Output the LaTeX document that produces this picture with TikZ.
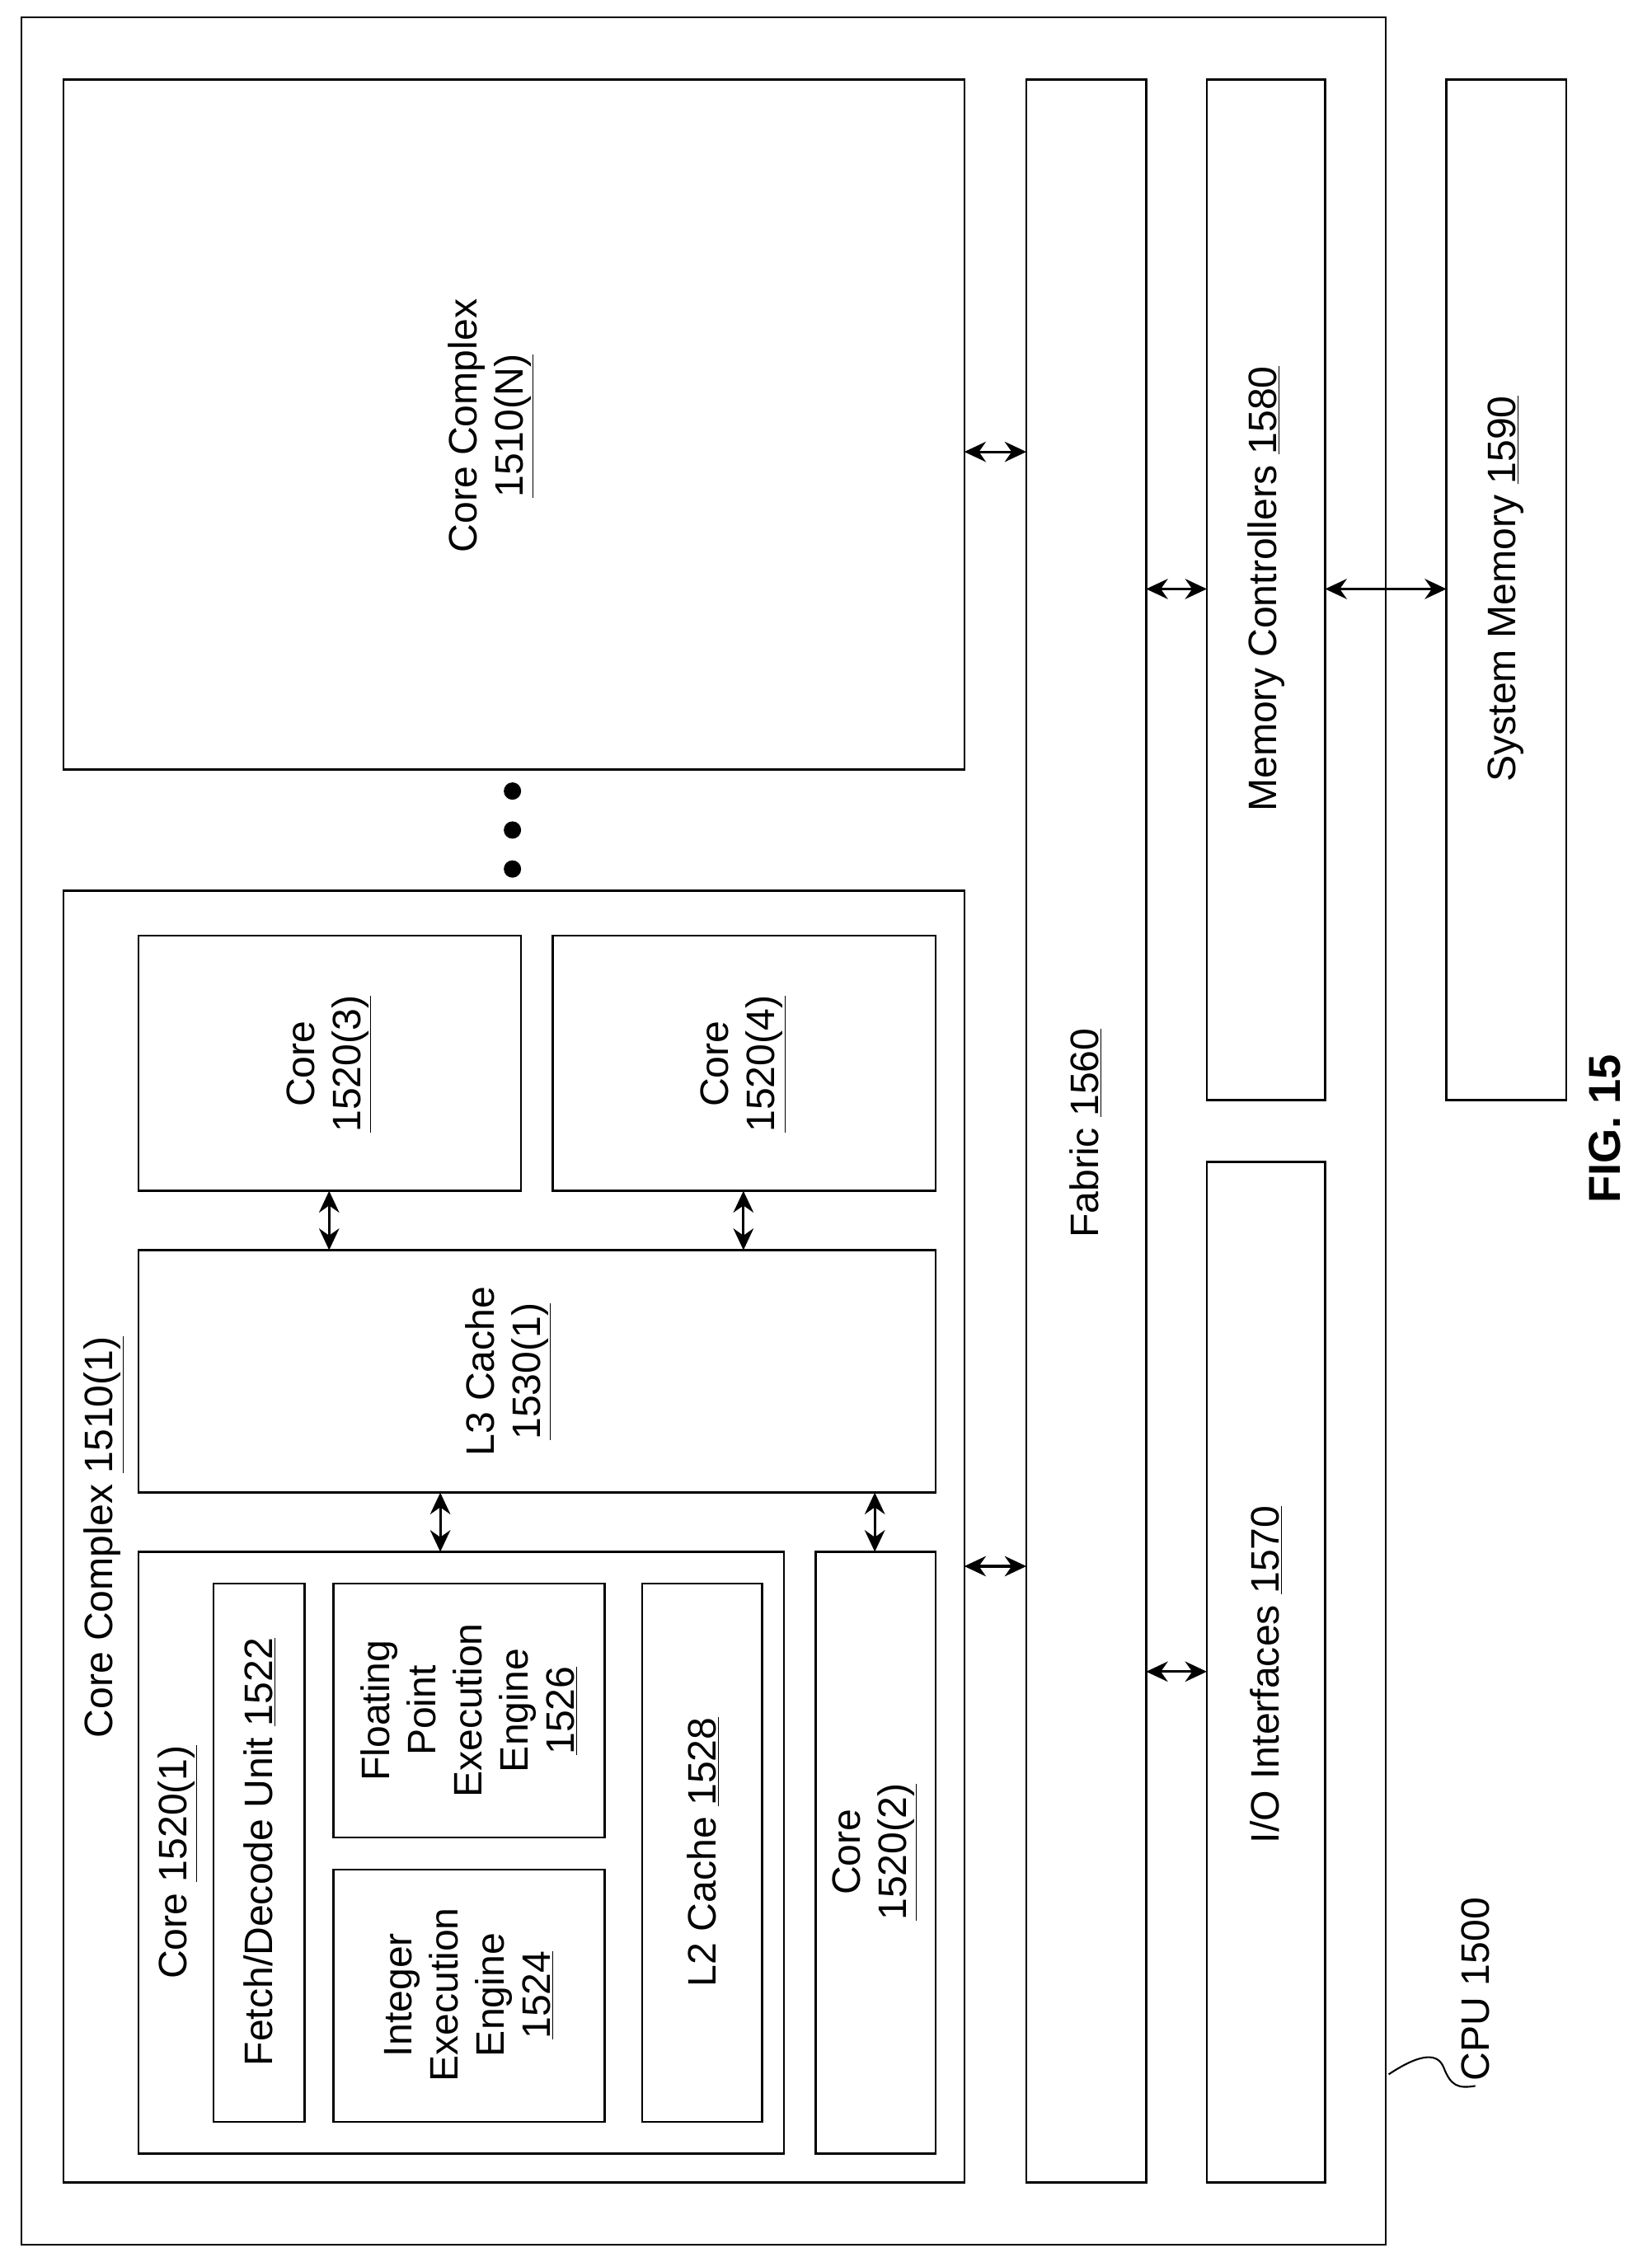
\documentclass[tikz,border=0pt]{standalone}
\usepackage{fontspec}
\setmainfont{Liberation Sans}
\usetikzlibrary{arrows.meta}
\newcommand{\myul}[1]{\underline{#1}}
\begin{document}
\begin{tikzpicture}[x=1pt,y=-1pt,
  box/.style={draw,line width=1.4pt},
  lbl/.style={rotate=90,align=center,font=\fontsize{27.5}{32}\selectfont},
  arr/.style={line width=1.8pt,{Stealth[length=15pt,width=14pt]}-{Stealth[length=15pt,width=14pt]}}]
\useasboundingbox (0,0) rectangle (1144,1567);
\fill[white] (0,0) rectangle (1144,1567);
\draw[box] (15,12) rectangle (960,1555);
\coordinate (cpuedge) at (962,1437);
% Core complex N
\draw[box] (44,55) rectangle (668,533);
\node[lbl] (ccn) at (340,295) {Core Complex\\\myul{1510(N)}};
\foreach \yy/\n in {548/d1,575/d2,602/d3} \fill (355,\yy) circle (6) coordinate (\n);
% Core complex 1
\draw[box] (44,617) rectangle (668,1512);
\node[lbl] (cc1) at (72,1065) {Core Complex \myul{1510(1)}};
\draw[box] (96,648) rectangle (361,825);
\node[lbl] (c3) at (228,737) {Core\\\myul{1520(3)}};
\draw[box] (383,648) rectangle (648,825);
\node[lbl] (c4) at (515,737) {Core\\\myul{1520(4)}};
\draw[box] (96,866) rectangle (648,1034);
\node[lbl] (l3) at (352,950) {L3 Cache\\\myul{1530(1)}};
\draw[box] (96,1075) rectangle (543,1492);
\node[lbl] (c1) at (123,1290) {Core \myul{1520(1)}};
\draw[box] (148,1097) rectangle (211,1470);
\node[lbl] (fd) at (180,1283) {Fetch/Decode Unit \myul{1522}};
\draw[box] (231,1097) rectangle (419,1273);
\node[lbl] (fp) at (325,1185) {Floating\\Point\\Execution\\Engine\\\myul{1526}};
\draw[box] (231,1295) rectangle (419,1470);
\node[lbl] (ie) at (325,1382) {Integer\\Execution\\Engine\\\myul{1524}};
\draw[box] (445,1097) rectangle (528,1470);
\node[lbl] (l2) at (487,1283) {L2 Cache \myul{1528}};
\draw[box] (565,1075) rectangle (648,1492);
\node[lbl] (c2) at (606,1283) {Core\\\myul{1520(2)}};
% right side
\draw[box] (711,55) rectangle (794,1512);
\node[lbl] (fab) at (752,785) {Fabric \myul{1560}};
\draw[box] (836,55) rectangle (918,762);
\node[lbl] (mc) at (877,408) {Memory Controllers \myul{1580}};
\draw[box] (836,805) rectangle (918,1512);
\node[lbl] (io) at (877,1160) {I/O Interfaces \myul{1570}};
\draw[box] (1002,55) rectangle (1085,762);
\node[lbl] (sm) at (1043,408) {System Memory \myul{1590}};
% arrows
\draw[arr] (668,313) -- (711,313);
\draw[arr] (668,1085) -- (711,1085);
\draw[arr] (794,408) -- (836,408);
\draw[arr] (794,1158) -- (836,1158);
\draw[arr] (918,408) -- (1002,408);
\draw[arr] (228,825) -- (228,866);
\draw[arr] (515,825) -- (515,866);
\draw[arr] (305,1034) -- (305,1075);
\draw[arr] (606,1034) -- (606,1075);
% labels
\node[lbl,font=\bfseries\fontsize{31}{36}\selectfont] (fig) at (1112,782) {FIG. 15};
\node[lbl,anchor=west] (cpul) at (1022,1445) {CPU 1500};
\draw[line width=1.2pt] (cpuedge) .. controls (980,1425) and (995,1420) .. (1000,1432) .. controls (1005,1445) and (1010,1447) .. (cpul.west);
\end{tikzpicture}
\end{document}
